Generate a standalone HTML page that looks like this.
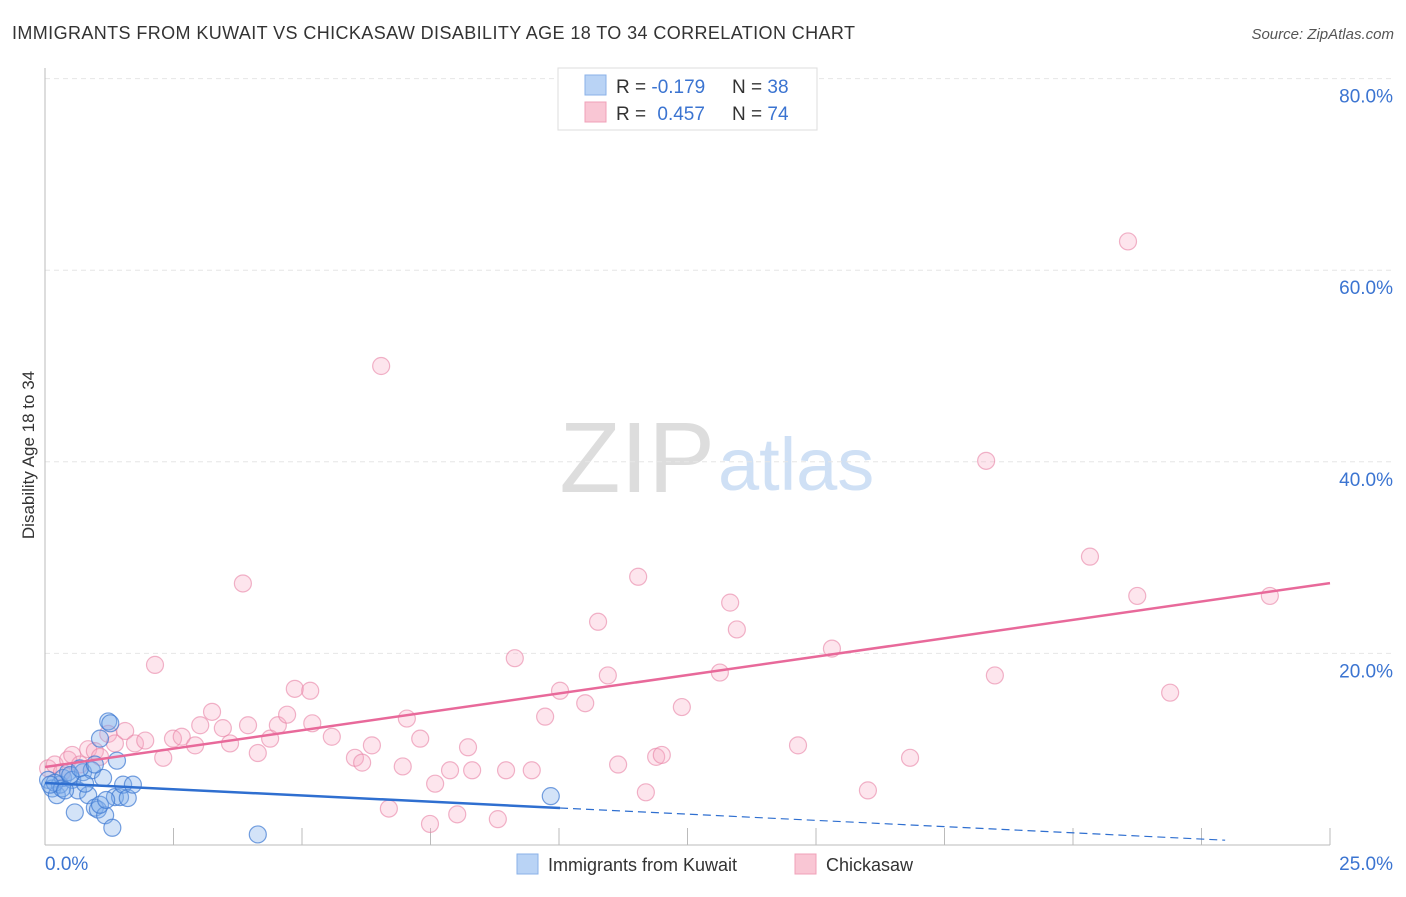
<!DOCTYPE html>
<html><head><meta charset="utf-8"><style>
body{margin:0;background:#fff;font-family:"Liberation Sans",sans-serif}
svg text{font-family:"Liberation Sans",sans-serif}
</style></head><body>
<svg id="c" width="1406" height="892">
<text x="12" y="39" font-size="18" fill="#333" textLength="843">IMMIGRANTS FROM KUWAIT VS CHICKASAW DISABILITY AGE 18 TO 34 CORRELATION CHART</text>
<text x="1394" y="39" font-size="15" fill="#555" font-style="italic" text-anchor="end">Source: ZipAtlas.com</text>
<text x="34" y="455" font-size="17" fill="#333" text-anchor="middle" transform="rotate(-90 34 455)">Disability Age 18 to 34</text>
<text x="715" y="492" font-size="100" fill="#ddd" text-anchor="end" font-family="Liberation Serif">ZIP</text>
<text x="718" y="490" font-size="74" fill="#cfe0f5">atlas</text>
<g id="grid"></g><g id="pts"></g><g id="lines"></g>
<g>
<rect x="558" y="68" width="259" height="62" fill="#fff" stroke="#ddd"/>
<rect x="585" y="75" width="21" height="20" fill="#b9d3f5" stroke="#8ab2e8"/>
<rect x="585" y="102" width="21" height="20" fill="#f9c6d4" stroke="#f0a0b8"/>
<text x="616" y="93" font-size="19" fill="#333">R = <tspan fill="#3b74d1">-0.179</tspan></text>
<text x="732" y="93" font-size="19" fill="#333">N = <tspan fill="#3b74d1">38</tspan></text>
<text x="616" y="120" font-size="19" fill="#333">R = <tspan fill="#3b74d1" dx="6">0.457</tspan></text>
<text x="732" y="120" font-size="19" fill="#333">N = <tspan fill="#3b74d1">74</tspan></text>
</g>
<g>
<rect x="517" y="854" width="21" height="20" fill="#b9d3f5" stroke="#8ab2e8"/>
<text x="548" y="871" font-size="18" fill="#333">Immigrants from Kuwait</text>
<rect x="795" y="854" width="21" height="20" fill="#f9c6d4" stroke="#f0a0b8"/>
<text x="826" y="871" font-size="18" fill="#333">Chickasaw</text>
</g>
</svg>
<script>
const yTicks=[20,40,60,80];
const yTickLabels=["20.0%","40.0%","60.0%","80.0%"];
const xTicks=[0,2.5,5,7.5,10,12.5,15,17.5,20,22.5,25];
const blueX=[0.06,0.14,0.23,0.29,0.35,0.45,0.53,0.58,0.64,0.74,0.84,0.91,0.97,1.03,1.07,1.13,1.17,1.23,1.27,1.31,1.36,1.40,1.46,1.52,1.61,1.71,0.19,0.33,0.49,0.68,0.78,0.97,1.07,1.19,4.14,9.84,0.10,0.39];
const blueY=[6.8,5.9,5.2,6.3,7.0,7.6,6.8,3.4,5.7,7.6,5.2,7.8,3.9,3.7,11.1,7.0,3.1,12.9,12.7,1.8,5.0,8.8,5.0,6.3,4.9,6.3,6.5,5.9,7.3,8.0,6.4,8.4,4.2,4.7,1.1,5.1,6.3,5.7];
const pinkX=[0.06,0.19,0.33,0.45,0.53,0.68,0.84,0.97,1.07,1.23,1.36,1.56,1.75,1.95,2.14,2.30,2.49,2.66,2.92,3.02,3.25,3.46,3.60,3.85,3.95,4.14,4.38,4.53,4.71,4.86,5.16,5.20,5.58,6.03,6.17,6.36,6.54,6.69,6.96,7.04,7.30,7.49,7.59,7.88,8.02,8.23,8.31,8.81,8.97,9.14,9.47,9.73,10.02,10.51,10.76,10.95,11.15,11.54,11.69,11.89,12.00,12.39,13.13,13.33,13.46,14.65,15.31,16.01,16.83,18.31,18.48,20.33,21.07,21.25,21.89,23.83];
const pinkY=[8.0,8.4,7.6,8.9,9.4,8.4,10.0,9.8,9.2,11.6,10.6,11.9,10.6,10.9,18.8,9.1,11.1,11.3,10.4,12.5,13.9,12.2,10.6,27.3,12.5,9.6,11.1,12.5,13.6,16.3,16.1,12.7,11.3,9.1,8.6,10.4,50.0,3.8,8.2,13.2,11.1,2.2,6.4,7.8,3.2,10.2,7.8,2.7,7.8,19.5,7.8,13.4,16.1,14.8,23.3,17.7,8.4,28.0,5.5,9.2,9.4,14.4,18.0,25.3,22.5,10.4,20.5,5.7,9.1,40.1,17.7,30.1,63.0,26.0,15.9,26.0];
const blueLine=[6.47,-0.26], blueSolidEnd=10.02, blueDashEnd=22.96;
const pinkLine=[8.14,0.768];
const X=v=>45+v*51.4, Y=v=>845-v*9.58;
const NS="http://www.w3.org/2000/svg";
function mk(t,a,p){const e=document.createElementNS(NS,t);for(const k in a)e.setAttribute(k,a[k]);p.appendChild(e);return e;}
const g=document.getElementById('grid'),svg=document.getElementById('c');
yTicks.forEach((t,i)=>{
 const l=mk('line',{x1:45,x2:1392,y1:Y(t),y2:Y(t),stroke:'#e6e6e6','stroke-dasharray':'5,4'},g);
 
 
 const tx=mk('text',{x:1393,y:Y(t)+24,'font-size':19,fill:'#3b74d1','text-anchor':'end'},g);tx.textContent=yTickLabels[i];
 
 
});
const ax=mk('line',{x1:45,x2:45,y1:68,y2:845,stroke:'#bbb'},g);


const bx=mk('line',{x1:45,x2:1330,y1:845,y2:845,stroke:'#bbb'},g);


xTicks.forEach(t=>{const l=mk('line',{x1:X(t),x2:X(t),y1:828,y2:845,stroke:'#bbb'},g);
 
 });
const x0=mk('text',{x:45,y:870,'font-size':19,fill:'#3b74d1'},g);x0.textContent='0.0%';


const x1=mk('text',{x:1393,y:870,'font-size':19,fill:'#3b74d1','text-anchor':'end'},g);x1.textContent='25.0%';


const P=document.getElementById('pts');
pinkX.forEach((v,i)=>{const c=mk('circle',{cx:X(v),cy:Y(pinkY[i]),r:8.5,fill:'rgba(247,170,195,0.3)',stroke:'rgba(232,130,165,0.6)','stroke-width':1.2},P);
 
 });
blueX.forEach((v,i)=>{const c=mk('circle',{cx:X(v),cy:Y(blueY[i]),r:8.5,fill:'rgba(130,175,235,0.35)',stroke:'rgba(60,120,210,0.7)','stroke-width':1.2},P);
 
 });
const L=document.getElementById('lines');
const bl=mk('line',{x1:X(0),y1:Y(blueLine[0]),x2:X(blueSolidEnd),y2:Y(blueLine[0]+blueLine[1]*blueSolidEnd),stroke:'#2f6fd0','stroke-width':2.5},L);


const bd=mk('line',{x1:X(blueSolidEnd),y1:Y(blueLine[0]+blueLine[1]*blueSolidEnd),x2:X(blueDashEnd),y2:Y(blueLine[0]+blueLine[1]*blueDashEnd),stroke:'#2f6fd0','stroke-width':1.2,'stroke-dasharray':'8,5'},L);


const pl=mk('line',{x1:X(0),y1:Y(pinkLine[0]),x2:X(25),y2:Y(pinkLine[0]+pinkLine[1]*25),stroke:'#e8699a','stroke-width':2.5},L);


</script>
</body></html>
